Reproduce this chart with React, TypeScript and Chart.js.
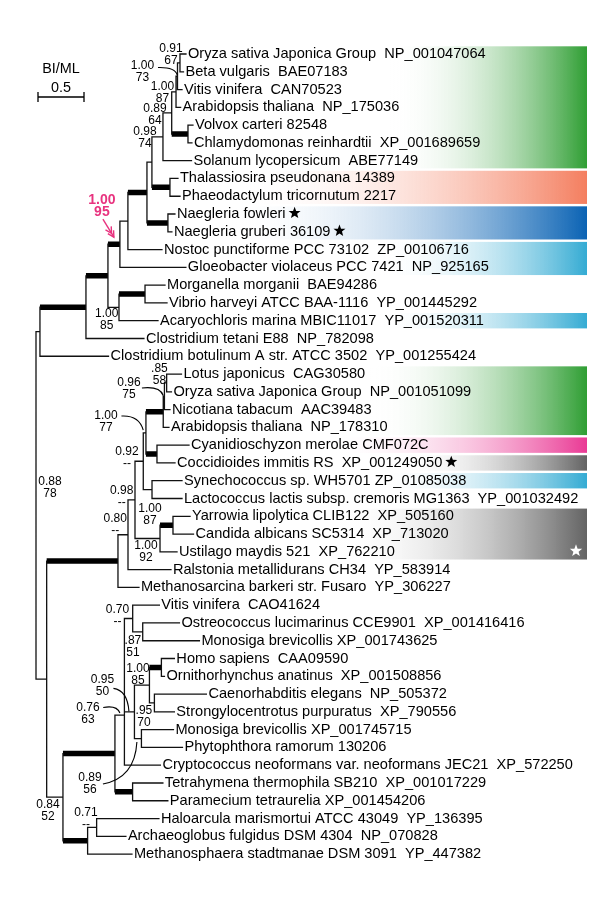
import React, { useEffect, useRef } from 'react';
import { Chart, registerables } from 'chart.js';

Chart.register(...registerables);

// ---------------- data: tree topology & branch lengths (substitutions/site) ----------------
const internalIds = ['root', 'A', 'C', 'D', 'E', 'F', 'G', 'H', 'I', 'J', 'K', 'L', 'M', 'N', 'O', 'S', 'R', 'Q', 'T',
  'U', 'V', 'W', 'X', 'Y', 'Z', 'AA', 'AB', 'AC', 'AD', 'AG', 'AE',
  'B', 'AH', 'AI', 'AJ', 'AS', 'AK', 'AL', 'AM', 'AN', 'AO', 'AP', 'AQ', 'AR', 'AT'];
const internalParents = [null, 'root', 'root', 'A', 'D', 'E', 'E', 'F', 'H', 'I', 'I', 'J', 'J', 'L', 'N', 'N', 'S', 'R', 'G',
  'C', 'U', 'V', 'W', 'W', 'Y', 'X', 'X', 'AB', 'AB', 'AC', 'AG',
  'C', 'B', 'B', 'AH', 'AJ', 'AH', 'AS', 'AS', 'AL', 'AM', 'AM', 'AO', 'AO', 'AI'];
const internalLengths = [0, 0.043, 0.116, 0.5, 0.239, 0.13, 0.12, 0.087, 0.207, 0.054, 0.228, 0.12, 0.196, 0.095, 0.177, 0.047, 0.016, 0.027, 0.283,
  0.775, 0.109, 0.076, 0.09, 0.272, 0.141, 0.095, 0.029, 0.188, 0.12, 0.013, 0.024,
  0.177, 0.565, 0.268, 0.103, 0, 0.192, 0.09, 0.109, 0.109, 0.163, 0.076, 0.13, 0.054, 0.098];
const thickBranches = ['D', 'E', 'F', 'I', 'K', 'M', 'O', 'T', 'U', 'AC', 'AD', 'Z', 'AH', 'AK', 'AI', 'AQ'];

const leafNames = [
  'Oryza sativa Japonica Group  NP_001047064',
  'Beta vulgaris  BAE07183',
  'Vitis vinifera  CAN70523',
  'Arabidopsis thaliana  NP_175036',
  'Volvox carteri 82548',
  'Chlamydomonas reinhardtii  XP_001689659',
  'Solanum lycopersicum  ABE77149',
  'Thalassiosira pseudonana 14389',
  'Phaeodactylum tricornutum 2217',
  'Naegleria fowleri',
  'Naegleria gruberi 36109',
  'Nostoc punctiforme PCC 73102  ZP_00106716',
  'Gloeobacter violaceus PCC 7421  NP_925165',
  'Morganella morganii  BAE94286',
  'Vibrio harveyi ATCC BAA-1116  YP_001445292',
  'Acaryochloris marina MBIC11017  YP_001520311',
  'Clostridium tetani E88  NP_782098',
  'Clostridium botulinum A str. ATCC 3502  YP_001255424',
  'Lotus japonicus  CAG30580',
  'Oryza sativa Japonica Group  NP_001051099',
  'Nicotiana tabacum  AAC39483',
  'Arabidopsis thaliana  NP_178310',
  'Cyanidioschyzon merolae CMF072C',
  'Coccidioides immitis RS  XP_001249050',
  'Synechococcus sp. WH5701 ZP_01085038',
  'Lactococcus lactis subsp. cremoris MG1363  YP_001032492',
  'Yarrowia lipolytica CLIB122  XP_505160',
  'Candida albicans SC5314  XP_713020',
  'Ustilago maydis 521  XP_762210',
  'Ralstonia metallidurans CH34  YP_583914',
  'Methanosarcina barkeri str. Fusaro  YP_306227',
  'Vitis vinifera  CAO41624',
  'Ostreococcus lucimarinus CCE9901  XP_001416416',
  'Monosiga brevicollis XP_001743625',
  'Homo sapiens  CAA09590',
  'Ornithorhynchus anatinus  XP_001508856',
  'Caenorhabditis elegans  NP_505372',
  'Strongylocentrotus purpuratus  XP_790556',
  'Monosiga brevicollis XP_001745715',
  'Phytophthora ramorum 130206',
  'Cryptococcus neoformans var. neoformans JEC21  XP_572250',
  'Tetrahymena thermophila SB210  XP_001017229',
  'Paramecium tetraurelia XP_001454206',
  'Haloarcula marismortui ATCC 43049  YP_136395',
  'Archaeoglobus fulgidus DSM 4304  NP_070828',
  'Methanosphaera stadtmanae DSM 3091  YP_447382',
];
const leafParents = ['Q', 'Q', 'R', 'S', 'O', 'O', 'L', 'M', 'M', 'K', 'K', 'H', 'F', 'T', 'T', 'G', 'D', 'A',
  'AE', 'AE', 'AG', 'AC', 'AD', 'AD', 'AA', 'AA', 'Z', 'Z', 'Y', 'V', 'U',
  'AL', 'AN', 'AN', 'AQ', 'AQ', 'AR', 'AR', 'AP', 'AP', 'AJ', 'AK', 'AK', 'AT', 'AT', 'AI'];
const leafLengths = [0.065, 0.038, 0.049, 0.05, 0.054, 0.043, 0.31, 0.087, 0.109, 0.076, 0.043, 0.37, 0.717, 0.217, 0.239, 0.424, 0.63, 0.745,
  0.161, 0.052, 0.06, 0.062, 0.348, 0.196, 0.326, 0.326, 0.185, 0.223, 0.185, 0.467, 0.228,
  0.29, 0.399, 0.616, 0.141, 0.033, 0.565, 0.217, 0.348, 0.446, 0.391, 0.329, 0.383, 0.677, 0.318, 0.482];
const starredLeaves = [9, 10, 23];

// support values (Bayesian posterior / ML bootstrap)
const supportNodes = ['Q', 'R', 'S', 'N', 'L', 'F', 'G', 'AE', 'AG', 'AB', 'X', 'W', 'Z', 'V', 'Y', 'root',
  'AL', 'AN', 'AO', 'AM', 'AP', 'AJ', 'AK', 'B', 'AT'];
const supportBI = ['0.91', '1.00', '1.00', '0.89', '0.98', '1.00', '1.00', '.85', '0.96', '1.00', '0.92', '0.98', '1.00', '0.80', '1.00', '0.88',
  '0.70', '.87', '1.00', '0.95', '.95', '0.76', '0.89', '0.84', '0.71'];
const supportML = ['67', '73', '87', '64', '74', '95', '85', '58', '75', '77', '--', '--', '87', '--', '92', '78',
  '--', '51', '85', '50', '70', '63', '56', '52', '--'];
const highlightedNode = 'F';

// coloured groups (first leaf, last leaf, colour)
const bandFirstLeaf = [0, 7, 9, 11, 15, 18, 22, 23, 24, 26];
const bandLastLeaf = [6, 8, 10, 12, 15, 21, 22, 23, 24, 28];
const bandColors = ['#2f9e33', '#f47e5f', '#0b63b4', '#34abd3', '#34abd3', '#2f9e33', '#ea3a95', '#636363', '#34abd3', '#636363'];
const starredBand = 9;

const scaleBarLength = 0.5;
const scaleBarLabel = '0.5';
const scaleBarTitle = 'BI/ML';

// ---------------- layout (pixels) ----------------
const W = 600, H = 918;
const PX_PER_UNIT = 92;
const ROOT_PX = 36;
const FIRST_LEAF_PX = 54;
const LEAF_STEP = 17.78;
const X_MIN = -ROOT_PX / PX_PER_UNIT;
const X_MAX = (W - ROOT_PX) / PX_PER_UNIT;
const Y_MIN = -FIRST_LEAF_PX / LEAF_STEP;
const Y_MAX = Y_MIN + H / LEAF_STEP;
const BAND_RIGHT = 587;
const bandFadeStart = [390, 240, 230, 380, 380, 370, 330, 400, 380, 340];
const labelOffsets: number[][] = [
  [-9, -14], [-35, -11], [-13.5, -4.8], [-16.7, -3.9], [-18, -4.9], [-18, -44.2], [-12.3, 6.6], [-7.2, -13.9],
  [-35.5, -13.3], [-40, -16.9], [-16.3, -9.2], [-13.3, -8.9], [-23, -16.4], [-12.8, -15.8], [-14, 7.5], [14, -24],
  [-15.3, -9.2], [-9.8, 8.5], [-11.5, -16.5], [-32, -32.5], [2.5, -27.5], [-36.5, -7.2], [-42.7, -13.9], [-15, 7.2], [-10.7, -14.4],
];
// leader curves: [support index, sx, sy, cx, cy, ex, ey] relative to node
const leaderCurves: number[][] = [
  [1, -19.5, -8.7, -2.5, -9.2, -0.2, -1.2],
  [8, -22.5, -8.3, -4.5, -10.3, -1.2, -0.8],
  [9, -24.5, -16.9, -7, -17.9, -2.7, -2.9],
  [19, -21, -23.5, -7, -21.5, -5.5, -0.5],
  [21, -21.2, -7.7, -7.5, -10.2, -4.5, -2.2],
  [22, -29.7, -7.9, 2.3, -13.9, 4.3, -49.9],
];
const PINK = '#e8337f';
const FONT = '"Liberation Sans", Arial, Helvetica, sans-serif';
const LEAF_FONT_SIZE = 14.6;

function buildTree() {
  const parent: Record<string, string | null> = {};
  const len: Record<string, number> = {};
  internalIds.forEach((id, i) => { parent[id] = internalParents[i]; len[id] = internalLengths[i]; });
  leafNames.forEach((_, i) => { parent['#' + i] = leafParents[i]; len['#' + i] = leafLengths[i]; });
  const children: Record<string, string[]> = {};
  Object.keys(parent).forEach((id) => {
    const p = parent[id];
    if (p) (children[p] = children[p] || []).push(id);
  });
  const depth: Record<string, number> = {};
  const getDepth = (id: string): number => {
    if (depth[id] !== undefined) return depth[id];
    const p = parent[id];
    depth[id] = p ? getDepth(p) + len[id] : 0;
    return depth[id];
  };
  const yIdx: Record<string, number> = {};
  const getY = (id: string): number => {
    if (yIdx[id] !== undefined) return yIdx[id];
    if (id[0] === '#') yIdx[id] = Number(id.slice(1));
    else {
      const ys = children[id].map(getY);
      yIdx[id] = (Math.min(...ys) + Math.max(...ys)) / 2;
    }
    return yIdx[id];
  };
  Object.keys(parent).forEach((id) => { getDepth(id); getY(id); });
  return { parent, children, depth, yIdx };
}

function drawStar(ctx: CanvasRenderingContext2D, cx: number, cy: number, r: number, fill: string) {
  ctx.beginPath();
  for (let k = 0; k < 10; k++) {
    const rad = k % 2 === 0 ? r : r * 0.42;
    const a = -Math.PI / 2 + (k * Math.PI) / 5;
    const x = cx + rad * Math.cos(a);
    const y = cy + rad * Math.sin(a);
    if (k === 0) ctx.moveTo(x, y); else ctx.lineTo(x, y);
  }
  ctx.closePath();
  ctx.fillStyle = fill;
  ctx.fill();
}

export default function App() {
  const ref = useRef<HTMLCanvasElement>(null);

  useEffect(() => {
    const canvas = ref.current;
    if (!canvas) return;
    const tree = buildTree();
    const thin: any[] = [];
    const thick: any[] = [];
    const gap = { x: null, y: null };
    Object.keys(tree.parent).forEach((id) => {
      const p = tree.parent[id];
      if (!p) return;
      const y = tree.yIdx[id];
      const target = thickBranches.includes(id) ? thick : thin;
      target.push({ x: tree.depth[p], y }, { x: tree.depth[id], y }, gap);
    });
    Object.keys(tree.children).forEach((id) => {
      const ys = tree.children[id].map((c) => tree.yIdx[c]);
      thin.push({ x: tree.depth[id], y: Math.min(...ys) }, { x: tree.depth[id], y: Math.max(...ys) }, gap);
    });

    const decor = {
      id: 'treeDecor',
      beforeDatasetsDraw(chart: any) {
        const ctx: CanvasRenderingContext2D = chart.ctx;
        const ys = chart.scales.y;
        ctx.save();
        bandFirstLeaf.forEach((first, i) => {
          const top = ys.getPixelForValue(first - 0.5) + 1.2;
          const bottom = ys.getPixelForValue(bandLastLeaf[i] + 0.5) - 1.2;
          const x0 = bandFadeStart[i];
          const g = ctx.createLinearGradient(x0, 0, BAND_RIGHT, 0);
          g.addColorStop(0, 'rgba(255,255,255,0)');
          g.addColorStop(1, bandColors[i]);
          ctx.fillStyle = g;
          ctx.fillRect(x0, top, BAND_RIGHT - x0, bottom - top);
          if (i === starredBand) {
            drawStar(ctx, BAND_RIGHT - 11, ys.getPixelForValue(bandLastLeaf[i]) - 1, 6.5, '#ffffff');
          }
        });
        ctx.restore();
      },
      afterDatasetsDraw(chart: any) {
        const ctx: CanvasRenderingContext2D = chart.ctx;
        const xs = chart.scales.x;
        const ys = chart.scales.y;
        const nodePx = (id: string) => ({ x: xs.getPixelForValue(tree.depth[id]), y: ys.getPixelForValue(tree.yIdx[id]) });
        ctx.save();
        // leaf labels
        ctx.font = `${LEAF_FONT_SIZE}px ${FONT}`;
        ctx.textBaseline = 'middle';
        ctx.textAlign = 'left';
        leafNames.forEach((name, i) => {
          const p = nodePx('#' + i);
          const tx = p.x + 2;
          ctx.fillStyle = '#000';
          ctx.fillText(name, tx, p.y);
          if (starredLeaves.includes(i)) {
            const w = ctx.measureText(name).width;
            drawStar(ctx, tx + w + 9, p.y - 1, 6.3, '#000');
          }
        });
        // support values
        ctx.textAlign = 'center';
        supportNodes.forEach((node, i) => {
          const p = nodePx(node);
          const [dx, dy] = labelOffsets[i];
          const hl = node === highlightedNode;
          ctx.fillStyle = hl ? PINK : '#000';
          ctx.font = hl ? `bold 14px ${FONT}` : `12px ${FONT}`;
          ctx.fillText(supportBI[i], p.x + dx, p.y + dy);
          ctx.fillText(supportML[i], p.x + dx, p.y + dy + 12);
        });
        // leader curves
        ctx.strokeStyle = '#000';
        ctx.lineWidth = 1.1;
        leaderCurves.forEach(([si, sx, sy, cx, cy, ex, ey]) => {
          const p = nodePx(supportNodes[si]);
          ctx.beginPath();
          ctx.moveTo(p.x + sx, p.y + sy);
          ctx.quadraticCurveTo(p.x + cx, p.y + cy, p.x + ex, p.y + ey);
          ctx.stroke();
        });
        // highlighted arrow
        const f = nodePx(highlightedNode);
        const sx = f.x - 17, sy = f.y - 25, tx = f.x - 6, ty = f.y - 7;
        ctx.strokeStyle = PINK;
        ctx.lineWidth = 1.4;
        ctx.beginPath();
        ctx.moveTo(sx, sy);
        ctx.lineTo(tx, ty);
        ctx.stroke();
        const ang = Math.atan2(ty - sy, tx - sx);
        [0, 4.5].forEach((back) => {
          const px = tx - back * Math.cos(ang);
          const py = ty - back * Math.sin(ang);
          ctx.beginPath();
          ctx.moveTo(px - 7 * Math.cos(ang - 0.5), py - 7 * Math.sin(ang - 0.5));
          ctx.lineTo(px, py);
          ctx.lineTo(px - 7 * Math.cos(ang + 0.5), py - 7 * Math.sin(ang + 0.5));
          ctx.stroke();
        });
        // scale bar
        const barLeft = 38, barY = 97;
        const barLen = xs.getPixelForValue(scaleBarLength) - xs.getPixelForValue(0);
        ctx.strokeStyle = '#000';
        ctx.lineWidth = 1.3;
        ctx.beginPath();
        ctx.moveTo(barLeft, barY);
        ctx.lineTo(barLeft + barLen, barY);
        ctx.moveTo(barLeft, barY - 5);
        ctx.lineTo(barLeft, barY + 5);
        ctx.moveTo(barLeft + barLen, barY - 5);
        ctx.lineTo(barLeft + barLen, barY + 5);
        ctx.stroke();
        ctx.fillStyle = '#000';
        ctx.font = `14.4px ${FONT}`;
        ctx.textAlign = 'center';
        ctx.fillText(scaleBarTitle, barLeft + barLen / 2, 69);
        ctx.fillText(scaleBarLabel, barLeft + barLen / 2, 88);
        ctx.restore();
      },
    };

    const chart = new Chart(canvas, {
      type: 'scatter',
      data: {
        datasets: [
          { data: thin, showLine: true, borderColor: '#111', borderWidth: 1.3, pointRadius: 0, borderCapStyle: 'square', spanGaps: false } as any,
          { data: thick, showLine: true, borderColor: '#000', borderWidth: 5.5, pointRadius: 0, borderCapStyle: 'butt', spanGaps: false } as any,
        ],
      },
      options: {
        responsive: false,
        animation: false,
        devicePixelRatio: 1,
        events: [],
        layout: { padding: 0 },
        scales: {
          x: { type: 'linear', display: false, min: X_MIN, max: X_MAX },
          y: { type: 'linear', display: false, reverse: true, min: Y_MIN, max: Y_MAX },
        },
        plugins: { legend: { display: false }, tooltip: { enabled: false } },
      },
      plugins: [decor],
    });
    return () => chart.destroy();
  }, []);

  return (
    <div style={{ position: 'absolute', left: 0, top: 0, width: W, height: H, background: '#fff' }}>
      <canvas ref={ref} width={W} height={H} style={{ display: 'block', width: W, height: H }} />
    </div>
  );
}
